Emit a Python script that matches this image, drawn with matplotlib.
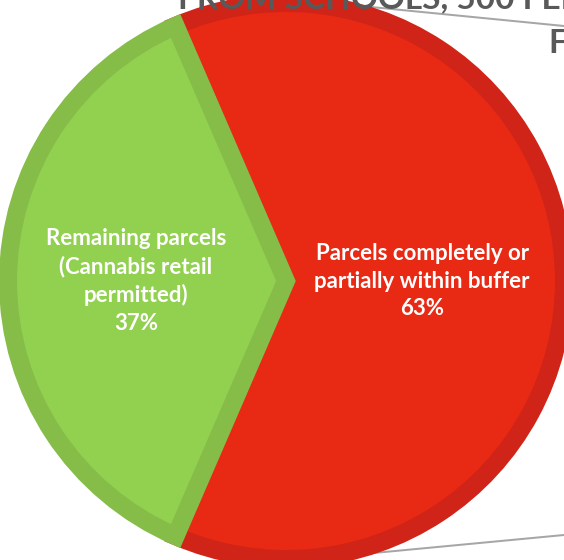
import numpy as np
import matplotlib
matplotlib.use("Agg")
import matplotlib.pyplot as plt

# ---- data ----
categories = ["Parcels completely or\npartially within buffer", "Remaining parcels\n(Cannabis retail\npermitted)"]
shares = [63, 37]
fill_colors = ["#E82914", "#92D050"]
edge_colors = ["#D02418", "#85BD48"]
title_line1 = "FROM SCHOOLS, 500 FEET"
title_line2 = "FROM"

W, H = 564, 560
fig = plt.figure(figsize=(W / 100, H / 100), dpi=100)
ax = fig.add_axes([0, 0, 1, 1])
ax.set_xlim(0, W)
ax.set_ylim(0, H)
ax.axis("off")

cx, cy, R = 286, H - 281, 278
px_to_pt = 72 / 100

# grey connector lines (behind pie)
ax.plot([300, 564], [H - 0, H - 26], color="#A6A6A6", lw=2 * px_to_pt, zorder=0.5)
ax.plot([300, 564], [H - 560, H - 535], color="#A6A6A6", lw=2 * px_to_pt, zorder=0.5)

startangle = -shares[0] / 100 * 180
wedges, _ = ax.pie(shares, colors=fill_colors, startangle=startangle, center=(cx, cy),
                   radius=R, counterclock=True,
                   wedgeprops=dict(linewidth=18 * px_to_pt, joinstyle="miter"))
for w, ec in zip(wedges, edge_colors):
    w.set_edgecolor(ec)
    w.set_clip_path(w)
    w.set_zorder(1)
ax.set_xlim(0, W)
ax.set_ylim(0, H)

label_dist = [0.49, 0.54]
for w, cat, val, d in zip(wedges, categories, shares, label_dist):
    ang = np.deg2rad((w.theta1 + w.theta2) / 2)
    x = cx + d * R * np.cos(ang)
    y = cy + d * R * np.sin(ang)
    ax.text(x, y, f"{cat}\n{val}%", ha="center", va="center", color="white",
            fontsize=16, fontweight="bold", family="Lato", linespacing=1.38, zorder=3)

# title text cut off at the top
fig.text(178 / W, 1 - 8 / H, title_line1, ha="left", va="baseline", color="#595959",
         fontsize=24, fontweight="bold", family="Lato", zorder=4)
fig.text(548 / W, 1 - 53 / H, title_line2, ha="left", va="baseline", color="#595959",
         fontsize=24, fontweight="bold", family="Lato", zorder=4)

fig.savefig("out.png", dpi=100)
